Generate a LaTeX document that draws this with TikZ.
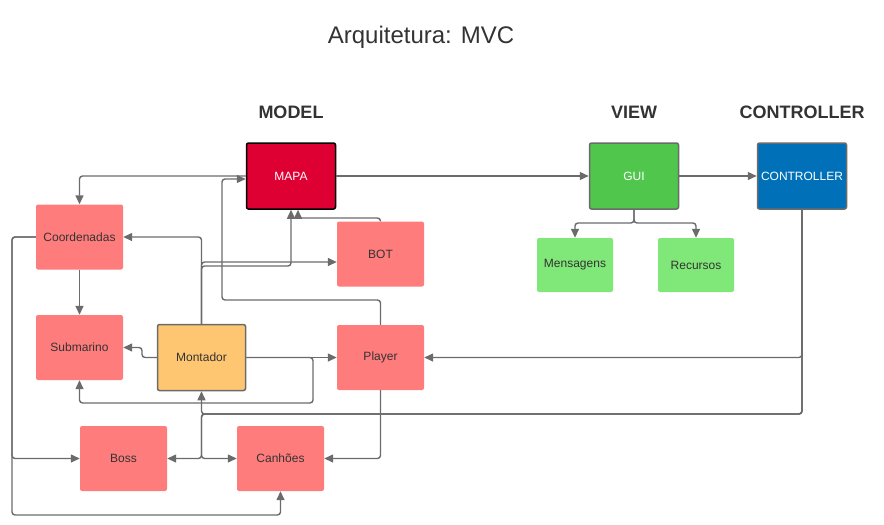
\documentclass[tikz,border=0pt]{standalone}
\usepackage{fontspec}
\setmainfont{Liberation Sans}
\usepackage{xcolor}
\usepackage{tikz}
\usetikzlibrary{positioning,arrows.meta}

\definecolor{linegray}{HTML}{6B6B6B}
\definecolor{textgray}{HTML}{333333}
\definecolor{mapared}{HTML}{DE0032}
\definecolor{coral}{HTML}{FF7C7C}
\definecolor{guigreen}{HTML}{51C64D}
\definecolor{lightgreen}{HTML}{80E878}
\definecolor{ctrlblue}{HTML}{0071B9}
\definecolor{montorange}{HTML}{FFC672}

\begin{document}
\begin{tikzpicture}[
            x=1pt, y=-1pt,
            box/.style={rectangle, rounded corners=2pt, inner sep=0pt, minimum width=87pt, minimum height=65pt, font=\fontsize{12}{14}\selectfont, text=textgray, fill=coral},
            mainbox/.style={box, draw=linegray, line width=1.5pt, minimum width=89pt, minimum height=66pt, text=white},
            subbox/.style={box, fill=lightgreen, minimum width=76pt, minimum height=54pt},
            header/.style={font=\fontsize{18}{20}\selectfont\bfseries, text=textgray},
            arr/.style={draw=linegray, line width=1.4pt, rounded corners=3pt, -{Triangle[length=9pt,width=8pt]}}
        ]
            \useasboundingbox (0,0) rectangle (884,525);
            % Titles
            \node[font=\fontsize{24}{26}\selectfont, text=textgray] (title) at (421,37) {Arquitetura: MVC};
            \node[header] (hmodel) at (291,112) {MODEL};
            \node[header] (hview) at (634,112) {VIEW};
            \node[header] (hctrl) at (802,112) {CONTROLLER};
            \begin{scope}
                % Vertices
                \node[mainbox, fill=mapared, draw=black] (mapa) at (291,176) {MAPA};
                \node[mainbox, fill=guigreen] (gui) at (634,176) {GUI};
                \node[mainbox, fill=ctrlblue] (ctrl) at (802,176) {CONTROLLER};
                \node[subbox] (msg) at (575,265) {Mensagens};
                \node[subbox] (rec) at (696,265) {Recursos};
                \node[box] (coord) at (79.5,237) {Coordenadas};
                \node[box] (bot) at (380.5,254) {BOT};
                \node[box] (sub) at (79.5,347.5) {Submarino};
                \node[box, fill=montorange, draw=linegray, line width=1.5pt, minimum width=88pt, minimum height=66pt] (mont) at (201.5,357.5) {Montador};
                \node[box] (player) at (380.5,357.5) {Player};
                \node[box] (boss) at (123.5,458.5) {Boss};
                \node[box] (can) at (280.5,458.5) {Canhões};
                % Edges
                \draw[arr] (mapa) -- (gui); % MAPA -> GUI
                \draw[arr] (gui) -- (ctrl); % GUI -> CONTROLLER
                \draw[arr] (gui.south) -- (634,223) -| (msg.north); % GUI -> Mensagens
                \draw[arr] (gui.south) -- (634,223) -| (rec.north); % GUI -> Recursos
                \draw[arr] (mapa.west) -| (coord.north); % MAPA -> Coordenadas
                \draw[arr] (player.north) |- (222,300) |- (mapa.west |- 0,179); % Player -> MAPA
                \draw[arr] (bot.north) |- (298,218) -- (mapa.south -| 298,0); % BOT -> MAPA
                \draw[arr] (mont.north) |- (291,266) -- (mapa.south); % Montador -> MAPA
                \draw[arr] (mont.north) |- (bot.west |- 0,262); % Montador -> BOT
                \draw[arr] (mont.north) |- (coord.east); % Montador -> Coordenadas
                \draw[arr] (coord) -- (sub); % Coordenadas -> Submarino
                \draw[arr] (coord.west) -- (12,237) |- (boss.west); % Coordenadas -> Boss
                \draw[arr] (coord.west) -- (12,237) |- (can.south |- 0,515) -- (can.south); % Coordenadas -> Canhoes
                \draw[arr] (mont.west) -- (142,357.5) |- (sub.east); % Montador -> Submarino
                \draw[arr] (mont.east) -- (313,357.5) |- (sub.south |- 0,403) -- (sub.south); % Montador -> Submarino
                \draw[arr] (mont) -- (player); % Montador -> Player
                \draw[arr] (ctrl.south) |- (player.east); % CONTROLLER -> Player
                \draw[arr] (ctrl.south) |- (mont.south |- 0,414) -- (mont.south); % CONTROLLER -> Montador
                \draw[arr] (ctrl.south) |- (mont.south |- 0,414) |- (boss.east); % CONTROLLER -> Boss
                \draw[arr] (ctrl.south) |- (mont.south |- 0,414) |- (can.west); % CONTROLLER -> Canhoes
                \draw[arr] (player.south) |- (can.east); % Player -> Canhoes
            \end{scope}
        \end{tikzpicture}
\end{document}
